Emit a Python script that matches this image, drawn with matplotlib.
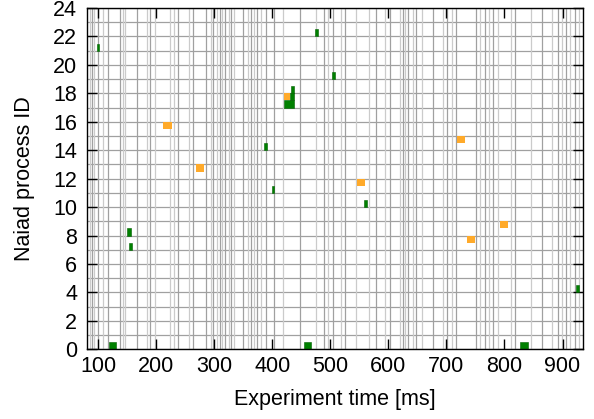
import matplotlib
matplotlib.use("Agg")
import matplotlib.pyplot as plt
from matplotlib.patches import Rectangle

plt.rcParams['font.family'] = ['Liberation Sans', 'DejaVu Sans']

# vertical marker lines (ms): darker and lighter ones
dark_lines = [90.4, 100.0, 117.9, 138.2, 167.2, 189.9, 238.2, 263.1, 286.4, 298.5,
              310.5, 319.1, 329.5, 350.1, 363.1, 374.3, 389.8, 402.7, 448.3, 489.2,
              504.3, 525.8, 578.4, 602.9, 624.4, 633.2, 646.8, 677.1, 701.2, 716.6,
              750.7, 766.5, 780.5, 818.7, 864.0, 892.3, 905.4, 920.7]
light_lines = [85.7, 93.8, 108.6, 142.6, 146.9, 185.1, 198.2, 223.5, 231.3, 256.2,
               294.1, 304.5, 314.0, 325.2, 333.8, 358.4, 368.3, 381.5, 419.0, 476.2,
               496.1, 518.1, 544.8, 565.8, 594.4, 620.1, 629.2, 642.7, 658.5, 694.7,
               709.0, 757.9, 773.9, 788.9, 810.6, 846.3, 882.1, 898.3, 913.1, 928.1]

# green activity: start, end (ms), process id
green_start = [118.4, 454.7, 827.0, 923.6, 153.0, 149.5, 558.0, 399.5, 385.7, 420.0, 430.0, 432.0, 503.0, 97.8, 473.6]
green_end   = [130.5, 466.8, 840.8, 928.0, 158.0, 156.4, 563.0, 403.0, 390.3, 437.0, 437.0, 437.0, 507.6, 102.4, 478.0]
green_proc  = [0, 0, 0, 4, 7, 8, 10, 11, 14, 17, 17.5, 18, 19, 21, 22]

# orange activity: start, end (ms), process id
orange_start = [736.0, 792.6, 545.5, 268.4, 718.4, 211.6, 420.0]
orange_end   = [749.5, 806.4, 560.0, 282.0, 732.2, 226.6, 430.0]
orange_proc  = [7, 8, 11, 12, 14, 15, 17]

x_ticks = [100, 200, 300, 400, 500, 600, 700, 800, 900]
y_ticks = list(range(0, 25, 2))

fig = plt.figure(figsize=(5.94, 4.19), dpi=100)
ax = fig.add_axes([87 / 594, 1 - 349.3 / 419, 496 / 594, 341.3 / 419])

for y in range(0, 25):
    ax.axhline(y, color='#a0a0a0', lw=0.9, zorder=1)
for x in light_lines:
    ax.axvline(x, color='#cbcbcb', lw=0.9, zorder=1)
for x in dark_lines:
    ax.axvline(x, color='#a0a0a0', lw=0.9, zorder=1.1)

for s, e, p in zip(green_start, green_end, green_proc):
    ax.add_patch(Rectangle((s, p), e - s, 0.5, facecolor='#008000',
                           edgecolor='#006000', lw=0.4, zorder=3))
for s, e, p in zip(orange_start, orange_end, orange_proc):
    ax.add_patch(Rectangle((s, p + 0.5), e - s, 0.5, facecolor='#ffaa2a',
                           edgecolor='none', zorder=4))

ax.set_xlim(81.0, 935.2)
ax.set_ylim(0, 24)
ax.set_xticks(x_ticks)
ax.set_yticks(y_ticks)
ax.tick_params(direction='in', length=7.5, width=1.0, top=True, right=True,
               labelsize=15.5, colors='black')
ax.tick_params(axis='y', pad=7)
ax.tick_params(axis='x', pad=5)
for sp in ax.spines.values():
    sp.set_linewidth(1.0)
    sp.set_color('black')
    sp.set_zorder(5)

fig.text(25 / 594, 1 - 178.7 / 419, 'Naiad process ID', rotation=90,
         ha='center', va='center', fontsize=15.5)
fig.text(335 / 594, 1 - 399 / 419, 'Experiment time [ms]',
         ha='center', va='center', fontsize=15.5)

fig.savefig('out.png', dpi=100)
